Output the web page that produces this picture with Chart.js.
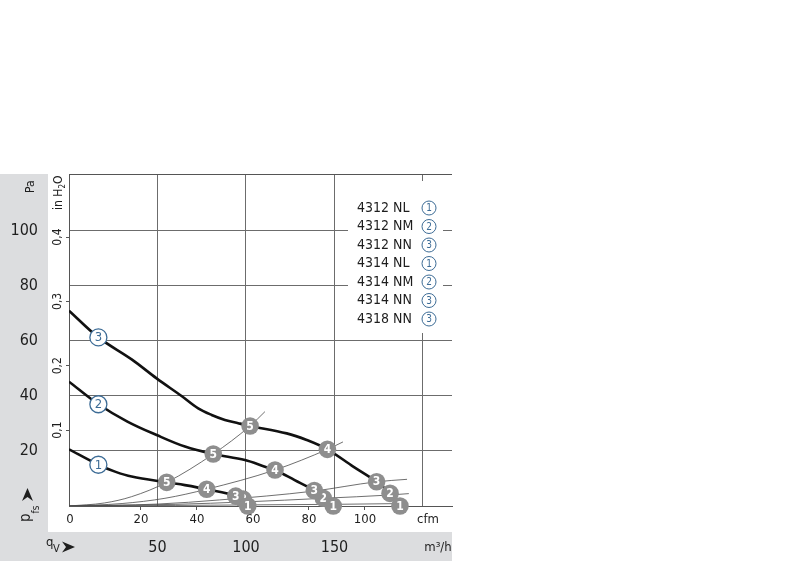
<!DOCTYPE html>
<html>
<head>
<meta charset="utf-8">
<title>4312 / 4314 / 4318 fan curves</title>
<script src="https://cdn.jsdelivr.net/npm/chart.js@4.4.1/dist/chart.umd.min.js"></script>
<style>
  html, body { margin: 0; padding: 0; background: #fff; }
</style>
</head>
<body>
<canvas id="chart" width="800" height="561"></canvas>
<script>
// Values: air flow in m³/h, pressure in Pa

// Fan curves (thick lines)
const curve1Flow = [0, 16.6, 26, 35.4, 55.2, 65.5, 77.8, 94.2, 101];
const curve1Pa   = [20.6, 15.0, 12.5, 10.7, 8.6, 7.6, 6.1, 3.6, 0];
const curve2Flow = [0, 16.6, 33, 49.5, 65.5, 81.5, 99.4, 110.7, 116.4, 127.5, 138.6, 143.7, 149.3];
const curve2Pa   = [45.2, 37.0, 30.7, 25.8, 21.6, 18.9, 16.7, 14.3, 13.1, 9.4, 5.6, 2.8, 0];
const curve3Flow = [0, 16.6, 35.4, 49.5, 63.6, 73, 80.6, 88.1, 95.6, 102.3, 123, 134.3, 146, 160.6, 173.8, 181.4, 187];
const curve3Pa   = [71.0, 61.3, 53.3, 46.4, 40.0, 35.5, 33.1, 31.3, 30.1, 29.1, 26.4, 24.0, 20.6, 14.3, 8.8, 4.6, 0];

// System lines (thin), numbered 1..5
const sys1Flow = [0, 60, 101, 149, 190];
const sys1Pa   = [0, 0.2, 0.4, 0.6, 0.9];
const sys2Flow = [0, 60, 100, 143.7, 181.4, 192];
const sys2Pa   = [0, 0.6, 1.5, 2.8, 4.0, 4.5];
const sys3Flow = [0, 50, 85, 138, 173.8, 191];
const sys3Pa   = [0, 0.7, 2.2, 5.4, 8.8, 9.7];
const sys4Flow = [0, 30, 54.2, 77.8, 116.4, 146, 154.8];
const sys4Pa   = [0, 0.9, 2.8, 6.1, 13.1, 20.6, 23.3];
const sys5Flow = [0, 20, 35.4, 55.2, 81.5, 102.3, 110.7];
const sys5Pa   = [0, 1.1, 3.4, 8.6, 18.9, 29.1, 34.3];

// Operating points where each fan curve meets system lines 5..1
const opLabels     = ['5', '4', '3', '2', '1'];
const curve1OpFlow = [55.2, 77.8, 94.2, 98.4, 101.0];
const curve1OpPa   = [8.6, 6.1, 3.6, 2.5, 0];
const curve2OpFlow = [81.5, 116.4, 138.6, 143.7, 149.3];
const curve2OpPa   = [18.9, 13.1, 5.6, 2.8, 0];
const curve3OpFlow = [102.3, 146.0, 173.8, 181.4, 187.0];
const curve3OpPa   = [29.1, 20.6, 8.8, 4.6, 0];

// Curve number badges
const curveIds    = ['1', '2', '3'];
const curveIdFlow = [16.6, 16.6, 16.6];
const curveIdPa   = [15.0, 37.0, 61.3];

// Legend
const legendModels = ['4312 NL', '4312 NM', '4312 NN', '4314 NL', '4314 NM', '4314 NN', '4318 NN'];
const legendCurve  = ['1', '2', '3', '1', '2', '3', '3'];

// Axes
const flowMax = 216.4;                 // m³/h at right edge
const flowTicks = [50, 100, 150, 200];
const flowLabelled = [50, 100, 150];
const cfmMin = -5.7, cfmMax = 131.1;   // cfm scale as printed
const cfmTicks = [20, 40, 60, 80, 100];
const paMax = 120.7;
const paTicks = [20, 40, 60, 80, 100];
const inMin = -0.018, inMax = 0.498;   // in H2O scale as printed
const inTicks = [0.1, 0.2, 0.3, 0.4];

const FONT = '"Liberation Sans Narrow", "DejaVu Sans Condensed", "Roboto Condensed", Arial, sans-serif';
const TEXT = '#1e1e1e';
const GRID = '#6c6c6c';
const BORDER = '#555';
const PANEL = '#dcdddf';
const BLUE = '#3d6c96';
const MARK = '#8e8e8e';

function toPoints(xs, ys) {
    return xs.map((x, i) => ({ x: x, y: ys[i] }));
}

const datasets = [];

[[sys1Flow, sys1Pa], [sys2Flow, sys2Pa], [sys3Flow, sys3Pa], [sys4Flow, sys4Pa], [sys5Flow, sys5Pa]].forEach(s => {
    datasets.push({
        data: toPoints(s[0], s[1]),
        borderColor: '#4a4a4a',
        borderWidth: 0.8,
        pointRadius: 0,
        cubicInterpolationMode: 'monotone',
        order: 50
    });
});

[[curve1Flow, curve1Pa], [curve2Flow, curve2Pa], [curve3Flow, curve3Pa]].forEach(s => {
    datasets.push({
        data: toPoints(s[0], s[1]),
        borderColor: '#111',
        borderWidth: 2.6,
        pointRadius: 0,
        tension: 0.35,
        order: 40
    });
});

datasets.push({
    data: toPoints(curveIdFlow, curveIdPa),
    showLine: false,
    pointRadius: 8.5,
    pointBackgroundColor: '#fff',
    pointBorderColor: BLUE,
    pointBorderWidth: 1.3,
    clip: false,
    order: 30,
    numbers: curveIds,
    numberFont: '13px ' + FONT,
    numberColor: BLUE
});

// one dataset per operating point number so 3 and 1 sit over 2 like on the sheet
const opDrawOrder = { '5': 25, '4': 24, '2': 23, '3': 22, '1': 21 };
opLabels.forEach((lab, i) => {
    datasets.push({
        data: [
            { x: curve1OpFlow[i], y: curve1OpPa[i] },
            { x: curve2OpFlow[i], y: curve2OpPa[i] },
            { x: curve3OpFlow[i], y: curve3OpPa[i] }
        ],
        showLine: false,
        pointRadius: 8.8,
        pointBackgroundColor: MARK,
        pointBorderWidth: 0,
        clip: false,
        order: opDrawOrder[lab],
        numbers: [lab, lab, lab],
        numberFont: 'bold 12px ' + FONT,
        numberColor: '#fff'
    });
});

// text written bottom-to-top; x is the baseline on screen
function upText(c, x, yStart, parts) {
    c.save();
    c.translate(x, yStart);
    c.rotate(-Math.PI / 2);
    c.textAlign = 'left';
    c.textBaseline = 'alphabetic';
    let pos = 0;
    parts.forEach(p => {
        c.font = p.font;
        c.fillText(p.text, pos, p.shift || 0);
        pos += c.measureText(p.text).width;
    });
    c.restore();
}

function arrowHead(c, tipX, tipY, dir) {
    c.beginPath();
    if (dir === 'up') {
        c.moveTo(tipX, tipY);
        c.lineTo(tipX + 5.5, tipY + 13);
        c.lineTo(tipX, tipY + 9);
        c.lineTo(tipX - 5.5, tipY + 13);
    } else {
        c.moveTo(tipX, tipY);
        c.lineTo(tipX - 13, tipY - 5.5);
        c.lineTo(tipX - 9, tipY);
        c.lineTo(tipX - 13, tipY + 5.5);
    }
    c.closePath();
    c.fill();
}

const sheet = {
    id: 'sheet',
    beforeDraw(chart) {
        const c = chart.ctx, a = chart.chartArea;
        c.save();
        c.fillStyle = '#fff';
        c.fillRect(0, 0, chart.width, chart.height);
        // grey bands behind the Pa and m³/h scales
        c.fillStyle = PANEL;
        c.fillRect(0, a.top, chart.scales.y.right, chart.height - a.top);
        c.fillRect(0, chart.scales.x.top, a.right, chart.height - chart.scales.x.top);
        c.restore();
    },
    beforeDatasetsDraw(chart) {
        const c = chart.ctx, a = chart.chartArea;
        c.save();
        c.strokeStyle = BORDER;
        c.lineWidth = 1;
        c.beginPath();
        c.moveTo(a.left, Math.round(a.top) + 0.5);
        c.lineTo(a.right, Math.round(a.top) + 0.5);
        c.stroke();

        // legend block, white so it breaks the grid
        c.fillStyle = '#fff';
        c.fillRect(a.right - 104, a.top + 7, 95, 152);
        c.textBaseline = 'middle';
        legendModels.forEach((m, i) => {
            const y = a.top + 34 + i * 18.5;
            c.font = '14px ' + FONT;
            c.fillStyle = TEXT;
            c.textAlign = 'left';
            c.fillText(m, a.right - 95, y);
            c.beginPath();
            c.arc(a.right - 23, y, 7, 0, Math.PI * 2);
            c.fillStyle = '#fff';
            c.fill();
            c.strokeStyle = BLUE;
            c.lineWidth = 1;
            c.stroke();
            c.font = '10px ' + FONT;
            c.fillStyle = BLUE;
            c.textAlign = 'center';
            c.fillText(legendCurve[i], a.right - 23, y + 0.5);
        });
        c.restore();
    },
    afterDatasetDraw(chart, args) {
        const ds = chart.data.datasets[args.index];
        if (!ds.numbers) return;
        const c = chart.ctx;
        c.save();
        c.font = ds.numberFont;
        c.fillStyle = ds.numberColor;
        c.textAlign = 'center';
        c.textBaseline = 'middle';
        args.meta.data.forEach((pt, i) => c.fillText(ds.numbers[i], pt.x, pt.y + 0.5));
        c.restore();
    },
    afterDraw(chart) {
        const c = chart.ctx, a = chart.chartArea;
        c.save();
        c.fillStyle = TEXT;
        upText(c, 34, a.top + 19, [{ text: 'Pa', font: '12px ' + FONT }]);
        upText(c, 62, a.top + 36, [
            { text: 'in H', font: '12px ' + FONT },
            { text: '2', font: '8px ' + FONT, shift: 2.5 },
            { text: 'O', font: '12px ' + FONT }
        ]);
        upText(c, 29.5, 522, [
            { text: 'p', font: '15px ' + FONT },
            { text: 'fs', font: '10px ' + FONT, shift: 9 }
        ]);
        arrowHead(c, 27.5, 488, 'up');

        c.textBaseline = 'alphabetic';
        c.textAlign = 'left';
        c.font = '13px ' + FONT;
        c.fillText('q', 46, 546);
        c.font = '11px ' + FONT;
        c.fillText('V', 53, 551.5);
        arrowHead(c, 75, 547, 'right');

        c.textAlign = 'center';
        c.textBaseline = 'middle';
        c.font = '13px ' + FONT;
        c.fillText('0', chart.scales.x.getPixelForValue(0) + 1, 520);
        c.fillText('cfm', a.right - 24, 520);
        c.fillText('m\u00b3/h', a.right - 14, 547.5);
        c.restore();
    }
};

new Chart(document.getElementById('chart'), {
    type: 'line',
    data: { datasets: datasets },
    plugins: [sheet],
    options: {
        responsive: false,
        animation: false,
        events: [],
        layout: { padding: { top: 174, right: 348, left: 0, bottom: 0 } },
        plugins: { legend: { display: false }, tooltip: { enabled: false } },
        scales: {
            x: {
                type: 'linear', position: 'bottom', weight: 1,
                min: 0, max: flowMax, bounds: 'data',
                afterBuildTicks: s => { s.ticks = flowTicks.map(v => ({ value: v })); },
                afterFit: s => { s.height = 29; },
                grid: { color: GRID, lineWidth: 1, drawTicks: false },
                border: { display: false },
                ticks: {
                    font: { family: FONT, size: 16 }, color: TEXT, padding: 6,
                    maxRotation: 0, autoSkip: false,
                    callback: v => flowLabelled.includes(v) ? String(v) : ''
                }
            },
            x2: {
                type: 'linear', position: 'bottom', weight: 0,
                min: cfmMin, max: cfmMax, bounds: 'data',
                afterBuildTicks: s => { s.ticks = cfmTicks.map(v => ({ value: v })); },
                afterFit: s => { s.height = 26; },
                grid: { drawOnChartArea: false, color: BORDER, tickLength: 4 },
                border: { color: BORDER },
                ticks: { font: { family: FONT, size: 13 }, color: TEXT, padding: 2, maxRotation: 0, autoSkip: false }
            },
            y: {
                type: 'linear', position: 'left', weight: 1,
                min: 0, max: paMax, bounds: 'data',
                afterBuildTicks: s => { s.ticks = paTicks.map(v => ({ value: v })); },
                afterFit: s => { s.width = 48; },
                grid: { color: GRID, lineWidth: 1, drawTicks: false },
                border: { display: false },
                ticks: { font: { family: FONT, size: 16 }, color: TEXT, padding: 10 }
            },
            y2: {
                type: 'linear', position: 'left', weight: 0,
                min: inMin, max: inMax, bounds: 'data',
                afterBuildTicks: s => { s.ticks = inTicks.map(v => ({ value: v })); },
                afterFit: s => { s.width = 21; },
                grid: { drawOnChartArea: false, color: BORDER, tickLength: 3 },
                border: { color: BORDER },
                ticks: {
                    font: { family: FONT, size: 12 }, color: TEXT, padding: 0,
                    minRotation: 90, maxRotation: 90, crossAlign: 'center',
                    callback: v => v.toFixed(1).replace('.', ',')
                }
            }
        }
    }
});
</script>
</body>
</html>
